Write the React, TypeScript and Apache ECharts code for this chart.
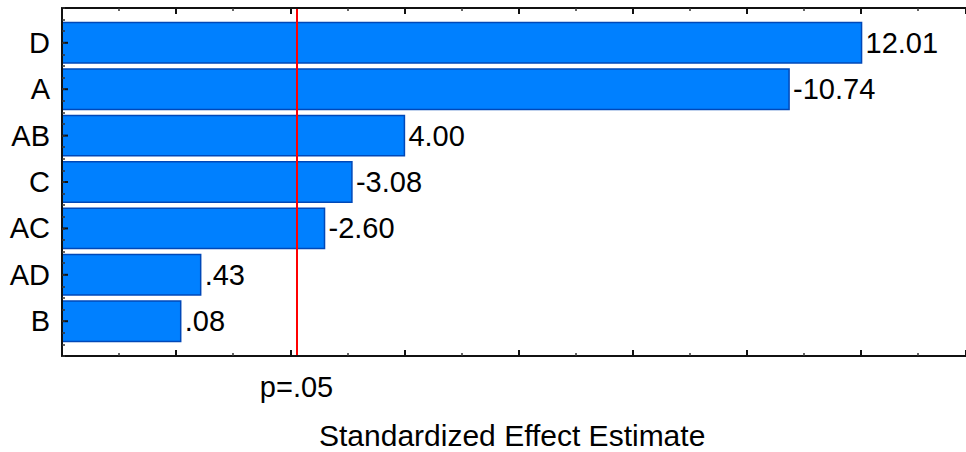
import React, { useEffect, useRef } from "react";
import * as echarts from "echarts";

const CATEGORIES = ["D", "A", "AB", "C", "AC", "AD", "B"];
const EFFECTS = [12.01, -10.74, 4.0, -3.08, -2.6, 0.43, 0.08];
const P_CRIT = 2.11;
const P_LABEL = "p=.05";
const X_MIN = -2;
const X_MAX = 13.84;
const AXIS_TITLE = "Standardized Effect Estimate";

const FONT = "'Liberation Sans', Arial, sans-serif";

function fmt(v: number): string {
  const s = Math.abs(v).toFixed(2).replace(/^0/, "");
  return (v < 0 ? "-" : "") + s;
}

export default function App() {
  const ref = useRef<HTMLDivElement>(null);
  useEffect(() => {
    if (!ref.current) return;
    const chart = echarts.init(ref.current, null, { renderer: "svg" });
    const data = EFFECTS.map((v, i) => [Math.abs(v), i, v]);
    const axisLine = { show: true, onZero: false, lineStyle: { color: "#111", width: 2 } };
    chart.setOption({
      animation: false,
      backgroundColor: "#fff",
      title: {
        text: AXIS_TITLE,
        left: 319,
        top: 420,
        padding: 0,
        textStyle: { fontSize: 30, fontWeight: "normal", color: "#000", fontFamily: FONT },
      },
      grid: { left: 62, top: 8, bottom: 96, right: 0, containLabel: false },
      xAxis: [
        {
          type: "value",
          position: "bottom",
          min: X_MIN,
          max: X_MAX,
          interval: 2,
          z: 5,
          axisLine,
          axisTick: { show: true, inside: true, length: 6, lineStyle: { color: "#111", width: 2 } },
          minorTick: { show: true, splitNumber: 2, length: 3, lineStyle: { color: "#333", width: 1.5 } },
          splitLine: { show: false },
          axisLabel: {
            show: true,
            customValues: [P_CRIT],
            formatter: () => P_LABEL,
            margin: 16,
            fontSize: 29,
            color: "#000",
            fontFamily: FONT,
          },
        },
        {
          type: "value",
          position: "top",
          min: X_MIN,
          max: X_MAX,
          interval: 2,
          z: 5,
          axisLine,
          axisTick: { show: true, inside: true, length: 6, lineStyle: { color: "#111", width: 2 } },
          minorTick: { show: true, splitNumber: 2, length: 3, lineStyle: { color: "#333", width: 1.5 } },
          splitLine: { show: false },
          axisLabel: { show: false },
        },
      ],
      yAxis: {
        type: "value",
        inverse: true,
        min: -0.75,
        max: 6.75,
        interval: 0.25,
        z: 5,
        axisLine,
        axisTick: { show: true, inside: true, length: 3, lineStyle: { color: "#333", width: 1.5 } },
        splitLine: { show: false },
        axisLabel: {
          show: true,
          margin: 12,
          fontSize: 29,
          color: "#000",
          fontFamily: FONT,
          formatter: (v: number) => {
            const r = Math.round(v);
            if (Math.abs(v - r) > 1e-6) return "";
            return CATEGORIES[r] ?? "";
          },
        },
      },
      series: [
        {
          type: "custom",
          xAxisIndex: 0,
          yAxisIndex: 0,
          data,
          encode: { x: 0, y: 1 },
          clip: false,
          renderItem: (params: any, api: any) => {
            const i = api.value(1);
            const mag = api.value(0);
            const raw = api.value(2);
            const s = api.coord([X_MIN, i]);
            const e = api.coord([mag, i]);
            const h = api.size([0, 1])[1] * 0.87;
            return {
              type: "group",
              children: [
                {
                  type: "rect",
                  shape: { x: s[0], y: s[1] - h / 2, width: e[0] - s[0], height: h },
                  style: { fill: "#0080ff", stroke: "#0048b8", lineWidth: 1.5 },
                },
                {
                  type: "line",
                  z2: 10,
                  shape: { x1: s[0], y1: s[1], x2: s[0] + 6, y2: s[1] },
                  style: { stroke: "#111", lineWidth: 2 },
                },
                {
                  type: "text",
                  style: {
                    text: fmt(raw),
                    x: e[0] + 4,
                    y: s[1],
                    align: "left",
                    verticalAlign: "middle",
                    fontSize: 29,
                    fontFamily: FONT,
                    fill: "#000",
                  },
                },
              ],
            };
          },
          markLine: {
            silent: true,
            symbol: "none",
            label: { show: false },
            lineStyle: { color: "#ff0000", width: 2, type: "solid" },
            data: [{ xAxis: P_CRIT }],
          },
        },
      ],
    });
    return () => chart.dispose();
  }, []);
  return (
    <div
      ref={ref}
      style={{ position: "fixed", left: 0, top: 0, width: 966, height: 452, background: "#fff" }}
    />
  );
}
